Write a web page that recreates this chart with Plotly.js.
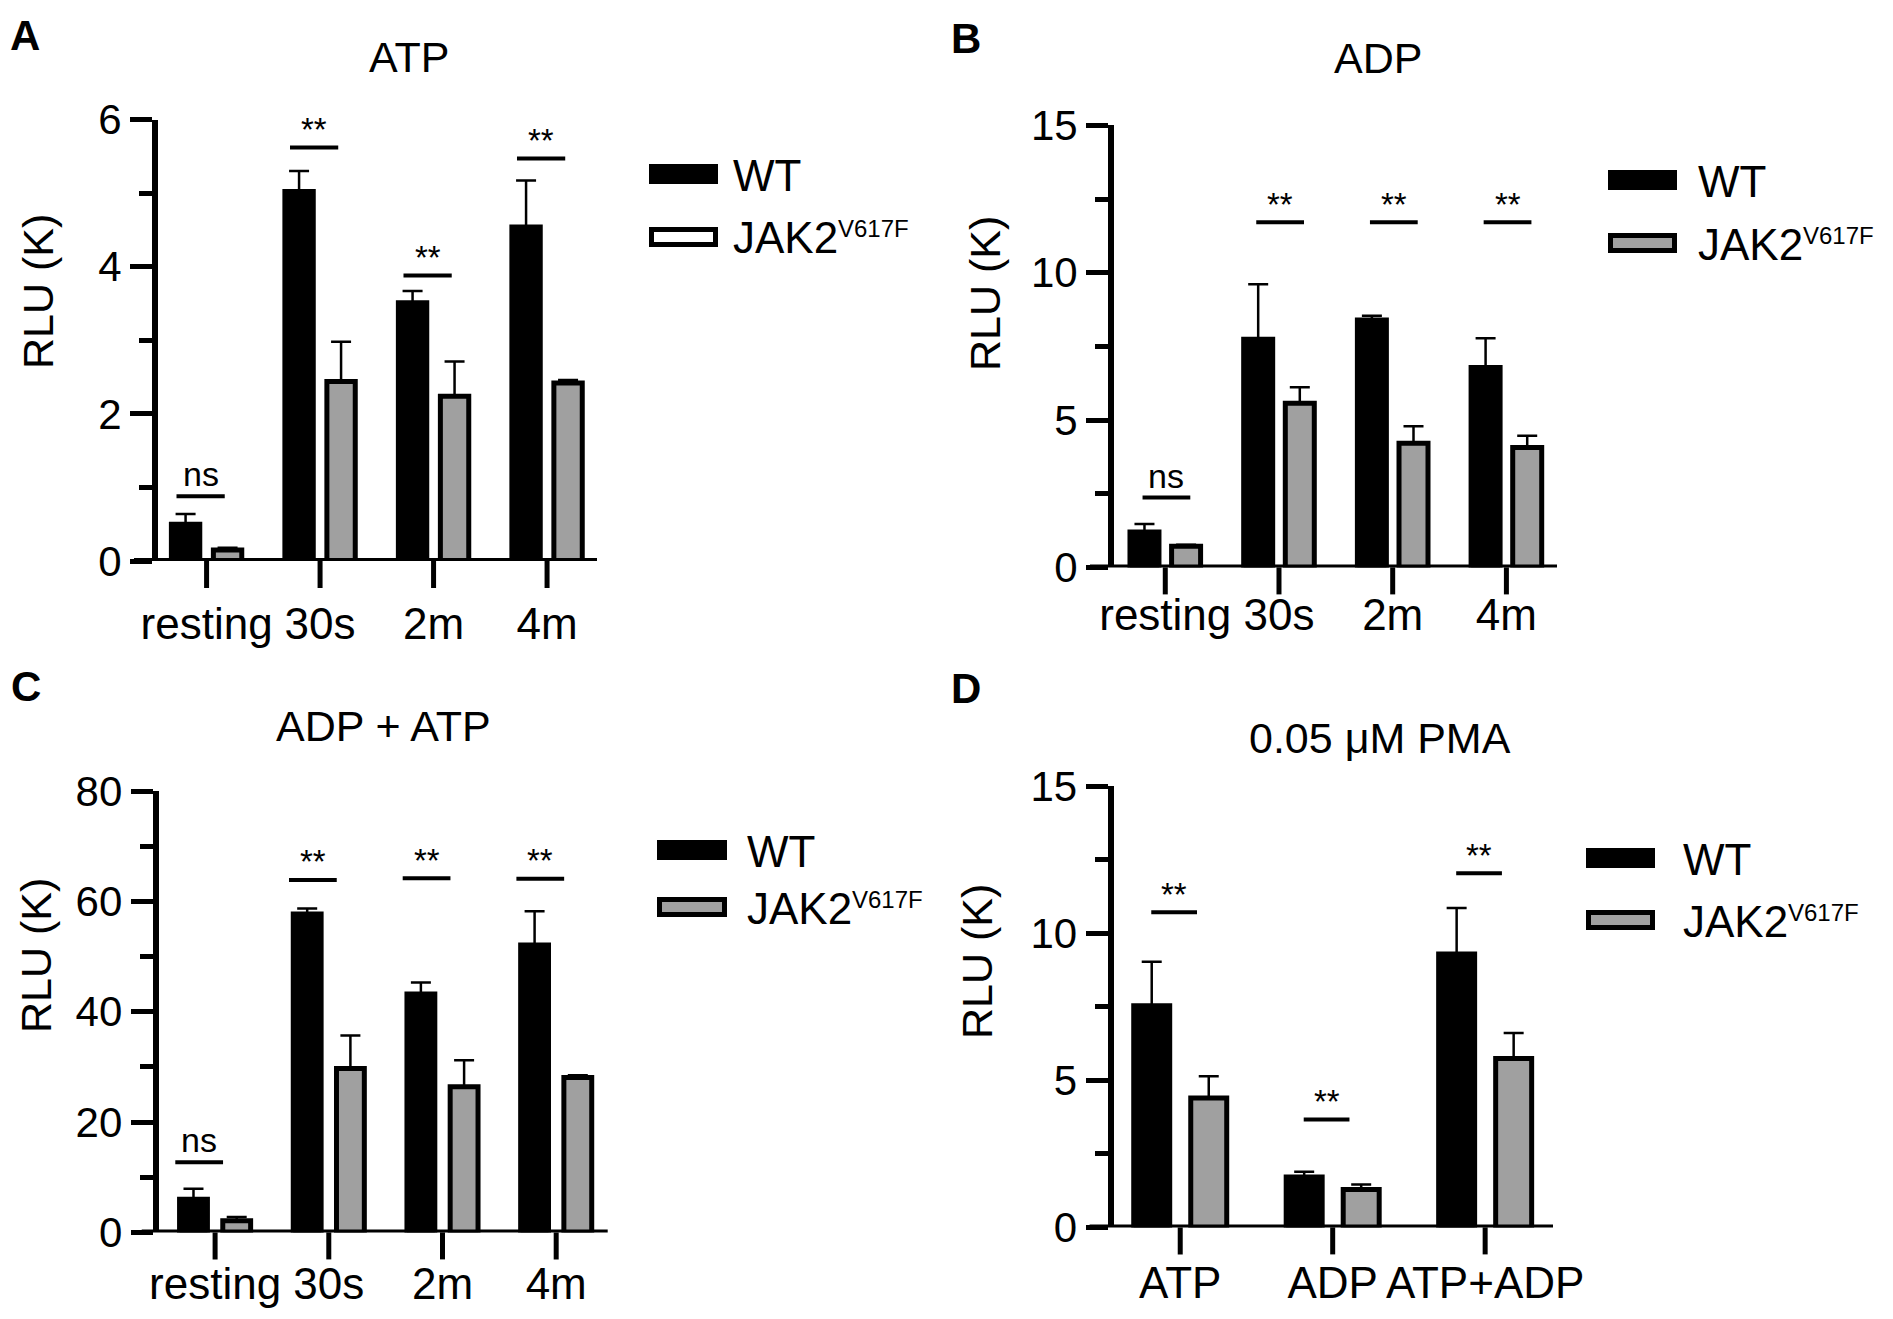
<!DOCTYPE html>
<html>
<head>
<meta charset="utf-8">
<script src="https://cdn.plot.ly/plotly-3.0.1.min.js"></script>
<style>
  html, body { margin: 0; padding: 0; background: #fff; }
  #chart { width: 1893px; height: 1319px; }
</style>
</head>
<body>
<div id="chart"></div>
<script>
// categories
const timeCats = ["resting", "30s", "2m", "4m"];
const pmaCats = ["ATP", "ADP", "ATP+ADP"];

// A: ATP, RLU (K)
const atpWT = [0.50, 5.02, 3.51, 4.54];
const atpWTErr = [0.14, 0.28, 0.16, 0.63];
const atpJAK = [0.15, 2.44, 2.24, 2.42];
const atpJAKErr = [0.03, 0.54, 0.47, 0.04];
const atpSig = ["ns", "**", "**", "**"];
const atpSigY = [0.88, 5.62, 3.88, 5.47];

// B: ADP
const adpWT = [1.20, 7.74, 8.40, 6.78];
const adpWTErr = [0.27, 1.87, 0.14, 1.00];
const adpJAK = [0.72, 5.57, 4.21, 4.07];
const adpJAKErr = [0.05, 0.54, 0.58, 0.40];
const adpSig = ["ns", "**", "**", "**"];
const adpSigY = [2.37, 11.71, 11.71, 11.71];

// C: ADP + ATP
const bothWT = [6.0, 57.7, 43.2, 52.1];
const bothWTErr = [1.9, 1.0, 2.1, 6.1];
const bothJAK = [2.1, 29.7, 26.4, 28.1];
const bothJAKErr = [0.7, 6.0, 4.8, 0.4];
const bothSig = ["ns", "**", "**", "**"];
const bothSigY = [12.7, 63.9, 64.2, 64.1];

// D: 0.05 uM PMA
const pmaWT = [7.53, 1.71, 9.29];
const pmaWTErr = [1.50, 0.18, 1.57];
const pmaJAK = [4.40, 1.29, 5.74];
const pmaJAKErr = [0.74, 0.17, 0.87];
const pmaSig = ["**", "**", "**"];
const pmaSigY = [10.71, 3.67, 12.04];

const W = 1893, H = 1319;
const px = x => x / W;
const py = y => 1 - y / H;
const FONT = "Liberation Sans, Arial, Helvetica, sans-serif";
const GRAY = "#a0a0a0";

// plot box in pixels: [left, right, y of 0, y of ymax]
const panels = [
    { label: "A", title: "ATP", cats: timeCats,
      wt: atpWT, wtErr: atpWTErr, jak: atpJAK, jakErr: atpJAKErr, sig: atpSig, sigY: atpSigY,
      box: [158, 597, 561, 119.5], xr: [-0.428, 3.44], ymax: 6, dtick: 2, minor: 1,
      d: 0.185, w: 0.25, sigL: -0.265, sigR: 0.16, xExt: 24, catPad: 33,
      labelXY: [25, 36], titleXY: [409, 57], ytitleXY: [38, 292],
      legend: { x0: 649, x1: 718, wtY: 174, jakY: 237, tx: 731 }, swatch: "white" },
    { label: "B", title: "ADP", cats: timeCats,
      wt: adpWT, wtErr: adpWTErr, jak: adpJAK, jakErr: adpJAKErr, sig: adpSig, sigY: adpSigY,
      box: [1114, 1557, 567.4, 125.4], xr: [-0.451, 3.445], ymax: 15, dtick: 5, minor: 2.5,
      d: 0.183, w: 0.255, sigL: -0.2, sigR: 0.22, xExt: 24, catPad: 18,
      labelXY: [966, 38], titleXY: [1378, 58], ytitleXY: [985, 294],
      legend: { x0: 1608, x1: 1677, wtY: 180, jakY: 243, tx: 1696 }, swatch: GRAY },
    { label: "C", title: "ADP + ATP", cats: timeCats,
      wt: bothWT, wtErr: bothWTErr, jak: bothJAK, jakErr: bothJAKErr, sig: bothSig, sigY: bothSigY,
      box: [158.7, 607.7, 1232.4, 791.1], xr: [-0.496, 3.453], ymax: 80, dtick: 20, minor: 10,
      d: 0.19, w: 0.245, sigL: -0.35, sigR: 0.07, xExt: 17, catPad: 22,
      labelXY: [26, 686], titleXY: [383, 726], ytitleXY: [36, 956],
      legend: { x0: 657, x1: 727, wtY: 850, jakY: 907, tx: 745 }, swatch: GRAY },
    { label: "D", title: "0.05 \u03bcM PMA", cats: pmaCats,
      wt: pmaWT, wtErr: pmaWTErr, jak: pmaJAK, jakErr: pmaJAKErr, sig: pmaSig, sigY: pmaSigY,
      box: [1113.6, 1553, 1227.4, 786.1], xr: [-0.437, 2.445], ymax: 15, dtick: 5, minor: 2.5,
      d: 0.187, w: 0.236, sigL: -0.19, sigR: 0.11, xExt: 24, catPad: 26,
      labelXY: [966, 688], titleXY: [1380, 738], ytitleXY: [977, 962],
      legend: { x0: 1586, x1: 1655, wtY: 858, jakY: 920, tx: 1681 }, swatch: GRAY }
];

const traces = [];
const shapes = [];
const annotations = [];
const layout = {
    width: W, height: H,
    margin: { l: 0, r: 0, t: 0, b: 0 },
    paper_bgcolor: "white", plot_bgcolor: "white",
    font: { family: FONT, color: "black" },
    showlegend: false,
    barmode: "group"
};

function text(x, y, s, size, extra) {
    annotations.push(Object.assign({
        xref: "paper", yref: "paper", x: px(x), y: py(y), text: s,
        showarrow: false, xanchor: "center", yanchor: "middle",
        font: { family: FONT, size: size, color: "black" }
    }, extra || {}));
}

panels.forEach((p, k) => {
    const n = k === 0 ? "" : String(k + 1);
    const xa = "x" + n, ya = "y" + n;
    const [l, r, y0, y1] = p.box;
    const zeros = p.wt.map(() => 0);

    traces.push({
        type: "bar", x: p.cats, y: p.wt, xaxis: xa, yaxis: ya,
        width: p.w, offset: -p.d - p.w / 2,
        marker: { color: "black", line: { color: "black", width: 5 } },
        error_y: { type: "data", symmetric: false, array: p.wtErr, arrayminus: zeros,
                   color: "black", thickness: 2.5, width: 10 },
        hoverinfo: "skip"
    });
    traces.push({
        type: "bar", x: p.cats, y: p.jak, xaxis: xa, yaxis: ya,
        width: p.w, offset: p.d - p.w / 2,
        marker: { color: GRAY, line: { color: "black", width: 5 } },
        error_y: { type: "data", symmetric: false, array: p.jakErr, arrayminus: zeros,
                   color: "black", thickness: 2.5, width: 10 },
        hoverinfo: "skip"
    });

    layout["xaxis" + n] = {
        domain: [px(l), px(r)], anchor: ya, range: p.xr,
        type: "category", showline: false, showgrid: false, zeroline: false,
        ticks: "", ticklabelstandoff: p.catPad,
        tickfont: { family: FONT, size: 44, color: "black" }
    };
    layout["yaxis" + n] = {
        domain: [py(y0), py(y1)], anchor: xa, range: [0, p.ymax],
        showline: true, linewidth: 6, linecolor: "black",
        showgrid: false, zeroline: false,
        tickmode: "linear", tick0: 0, dtick: p.dtick,
        ticks: "outside", ticklen: 22, tickwidth: 5, tickcolor: "black",
        ticklabelstandoff: 0,
        minor: { tickmode: "linear", tick0: 0, dtick: p.minor, ticks: "outside",
                 ticklen: 13, tickwidth: 5, tickcolor: "black", showgrid: false },
        tickfont: { family: FONT, size: 42, color: "black" }
    };

    // x axis line, running a little left of the y axis
    shapes.push({
        type: "line", xref: xa + " domain", yref: ya,
        x0: -p.xExt / (r - l), x1: 1, y0: 0, y1: 0,
        line: { color: "black", width: 6 }
    });
    // category tick marks below the x axis
    p.cats.forEach((c, i) => {
        shapes.push({
            type: "line", xref: xa, yref: "paper",
            x0: i, x1: i, y0: py(y0), y1: py(y0 + 27),
            line: { color: "black", width: 5 }
        });
    });

    // significance bars
    p.sig.forEach((s, i) => {
        shapes.push({
            type: "line", xref: xa, yref: ya,
            x0: i + p.sigL, x1: i + p.sigR, y0: p.sigY[i], y1: p.sigY[i],
            line: { color: "black", width: 4 }
        });
        annotations.push({
            xref: xa, yref: ya, x: i + (p.sigL + p.sigR) / 2, y: p.sigY[i],
            text: s, showarrow: false, xanchor: "center", yanchor: "middle",
            yshift: s === "ns" ? 22 : 18,
            font: { family: FONT, size: s === "ns" ? 34 : 33, color: "black" }
        });
    });

    text(p.labelXY[0], p.labelXY[1], "<b>" + p.label + "</b>", 42);
    text(p.titleXY[0], p.titleXY[1], p.title, 43);
    text(p.ytitleXY[0], p.ytitleXY[1], "RLU (K)", 43, { textangle: -90 });

    // legend
    const g = p.legend, hh = 10, inset = 2.5;
    shapes.push({
        type: "rect", xref: "paper", yref: "paper",
        x0: px(g.x0), x1: px(g.x1), y0: py(g.wtY + hh), y1: py(g.wtY - hh),
        fillcolor: "black", line: { width: 0 }
    });
    shapes.push({
        type: "rect", xref: "paper", yref: "paper",
        x0: px(g.x0 + inset), x1: px(g.x1 - inset),
        y0: py(g.jakY + hh - inset), y1: py(g.jakY - hh + inset),
        fillcolor: p.swatch, line: { color: "black", width: 5 }
    });
    text(g.tx, g.wtY + 1, "WT", 44, { xanchor: "left" });
    text(g.tx, g.jakY + 1, "JAK2", 44, { xanchor: "left" });
    text(g.tx + 105, g.jakY - 8, "V617F", 24, { xanchor: "left" });
});

layout.shapes = shapes;
layout.annotations = annotations;

Plotly.newPlot("chart", traces, layout, { staticPlot: true, displayModeBar: false });
</script>
</body>
</html>
